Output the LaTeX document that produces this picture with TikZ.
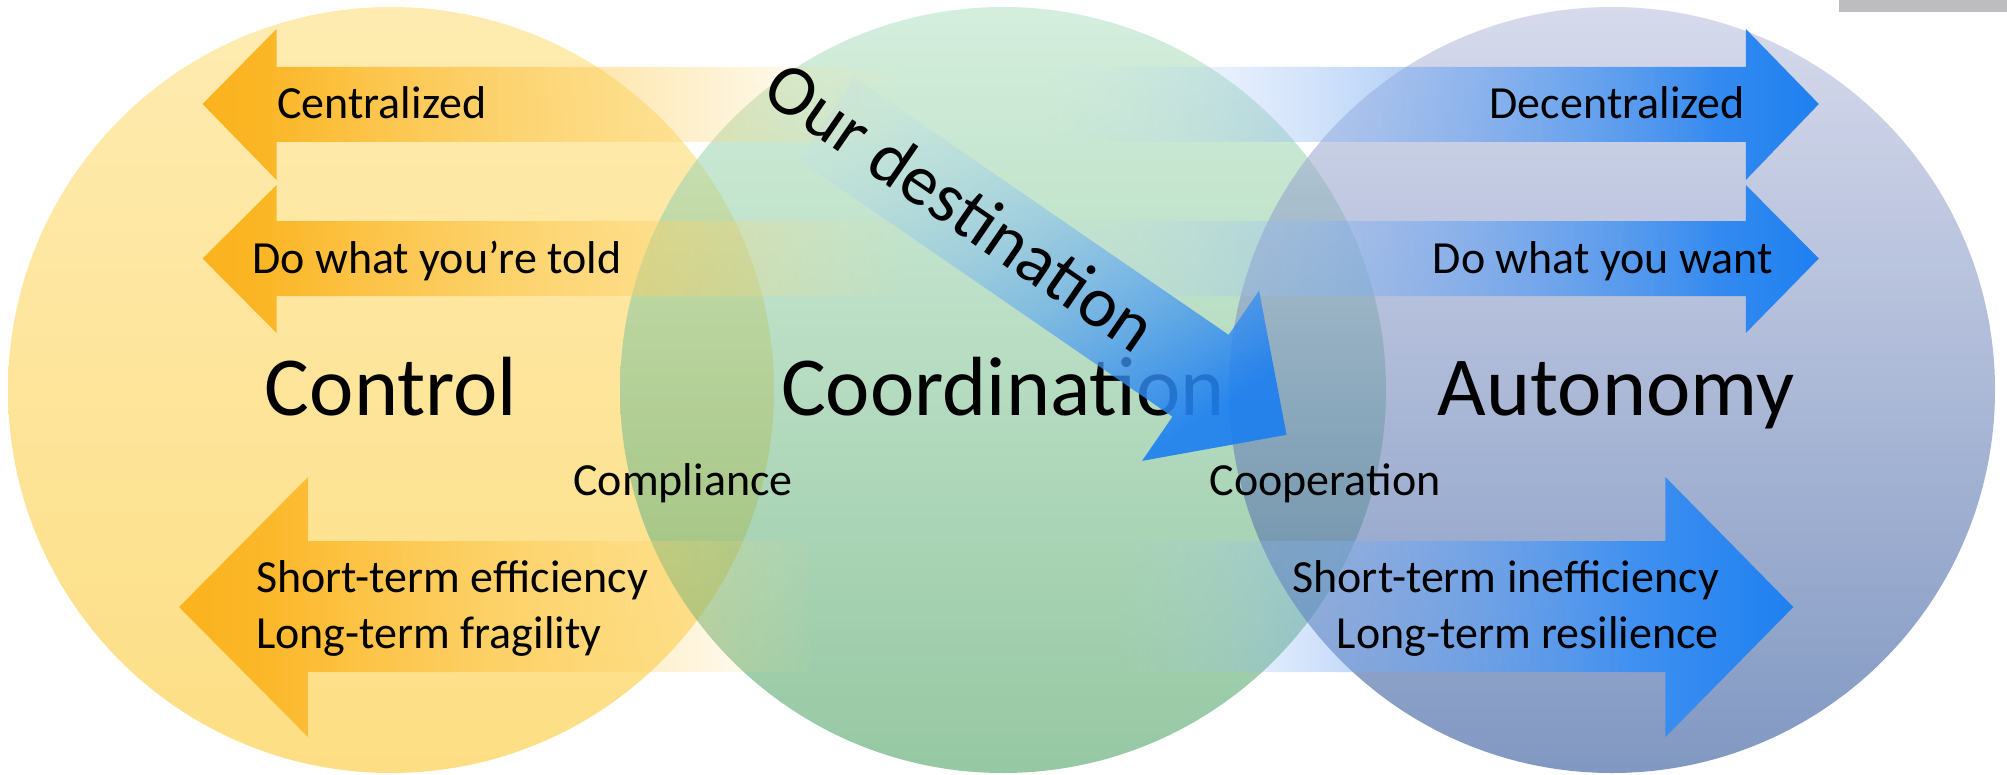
\documentclass[tikz,border=0pt]{standalone}
\usepackage{fontspec}
\setmainfont{Carlito}
\usetikzlibrary{fadings}

\definecolor{yelT}{RGB}{253,222,124}
\definecolor{yelB}{RGB}{252,200,50}
\definecolor{greT}{RGB}{183,227,198}
\definecolor{greB}{RGB}{80,163,102}
\definecolor{bluT}{RGB}{187,193,223}
\definecolor{bluB}{RGB}{45,83,153}
\definecolor{oraA}{RGB}{251,178,28}
\definecolor{oraB}{RGB}{253,208,100}
\definecolor{oraC}{RGB}{254,230,170}
\definecolor{bluA}{RGB}{200,222,252}
\definecolor{bluBm}{RGB}{120,170,240}
\definecolor{bluC}{RGB}{30,128,240}
\definecolor{dgA}{RGB}{175,215,245}
\definecolor{dgB}{RGB}{30,128,240}
\definecolor{barGrey}{RGB}{189,189,191}

\pgfdeclarehorizontalshading{hcol}{100bp}{color(0bp)=(oraA); color(25bp)=(oraA); color(39bp)=(oraB); color(48bp)=(oraC); color(51bp)=(bluA); color(62bp)=(bluBm); color(75bp)=(bluC); color(100bp)=(bluC)}

% fading for the two upper arrows
\begin{tikzfadingfrompicture}[name=hfade]
\fill[transparent!0] (-50bp,-50bp) rectangle (-22.5bp,50bp);
\shade[left color=transparent!0,right color=transparent!100] (-23bp,-50bp) rectangle (-3bp,50bp);
\fill[transparent!100] (-3.5bp,-50bp) rectangle (1.5bp,50bp);
\shade[left color=transparent!100,right color=transparent!0] (1bp,-50bp) rectangle (22bp,50bp);
\fill[transparent!0] (21.5bp,-50bp) rectangle (50bp,50bp);
\end{tikzfadingfrompicture}

% fading for the lower arrow
\begin{tikzfadingfrompicture}[name=hfadeB]
\fill[transparent!0] (-50bp,-50bp) rectangle (-21.5bp,50bp);
\shade[left color=transparent!0,right color=transparent!100] (-22bp,-50bp) rectangle (-5bp,50bp);
\fill[transparent!100] (-5.5bp,-50bp) rectangle (4.5bp,50bp);
\shade[left color=transparent!100,right color=transparent!0] (4bp,-50bp) rectangle (20bp,50bp);
\fill[transparent!0] (19.5bp,-50bp) rectangle (50bp,50bp);
\end{tikzfadingfrompicture}

\tikzfading[name=dfade, top color=transparent!85, bottom color=transparent!8]

\begin{document}
\begin{tikzpicture}[x=1pt,y=-1pt,
  circ/.style={opacity=0.6},
  harrow/.style={shading=hcol, path fading=hfade},
  harrowB/.style={shading=hcol, path fading=hfadeB},
  lbl/.style={inner sep=0pt, font=\fontsize{46}{50}\selectfont},
  big/.style={inner sep=0pt, font=\fontsize{84}{90}\selectfont},
  dest/.style={inner sep=0pt, font=\fontsize{72}{78}\selectfont}]
\useasboundingbox (0,0) rectangle (2007,774);

% circles
\shade[circ, top color=yelT, bottom color=yelB] (391,390) circle[radius=383];
\shade[circ, top color=greT, bottom color=greB] (1003,390) circle[radius=383];
\shade[circ, top color=bluT, bottom color=bluB] (1612,390) circle[radius=383];

% grey bar
\fill[barGrey] (1839,0) rectangle (2007,12);

% horizontal double arrows
\shade[harrow] (203,104) -- (277,29) -- (277,67) -- (1747,67) -- (1747,29) -- (1820,104)
  -- (1747,180) -- (1747,142) -- (277,142) -- (277,180) -- cycle;
\shade[harrow] (203,258.5) -- (277,185) -- (277,221) -- (1747,221) -- (1747,185) -- (1820,258.5)
  -- (1747,333) -- (1747,296) -- (277,296) -- (277,333) -- cycle;
\shade[harrowB] (180,607) -- (309,477) -- (309,541) -- (1668,541) -- (1668,477) -- (1796,607)
  -- (1668,737) -- (1668,672) -- (309,672) -- (309,737) -- cycle;

% labels
\node[lbl, anchor=base west] (cent) at (277,118) {Centralized};
\node[lbl, anchor=base east] (decent) at (1745,118) {Decentralized};
\node[lbl, anchor=base west] (told) at (252,273) {Do what you’re told};
\node[lbl, anchor=base east] (want) at (1773,273) {Do what you want};
\node[big, anchor=base] (control) at (391,415) {Control};
\node[big, anchor=base] (coord) at (1003,415) {Coordination};
\node[big, anchor=base] (auto) at (1616,415) {Autonomy};
\node[lbl, anchor=base] (compl) at (683,495) {Compliance};
\node[lbl, anchor=base] (coop) at (1325,495) {Cooperation};
\node[lbl, anchor=base west] (ste) at (256,592) {Short-term efficiency};
\node[lbl, anchor=base west] (ltf) at (256,648) {Long-term fragility};
\node[lbl, anchor=base east] (sti) at (1719,592) {Short-term inefficiency};
\node[lbl, anchor=base east] (ltr) at (1719,648) {Long-term resilience};

% diagonal arrow
\shade[top color=dgA, bottom color=dgB, shading angle=34.5, path fading=dfade, fading angle=34.5]
  (854.3,72.8) -- (1230.9,331.6) -- (1261.5,287.1) -- (1289.2,432.3) -- (1143.7,458.5)
  -- (1174.3,414) -- (797.7,155.2) -- cycle;
\node[dest, rotate=-34.5] (ourdest) at (961,206) {Our destination};
\end{tikzpicture}
\end{document}
